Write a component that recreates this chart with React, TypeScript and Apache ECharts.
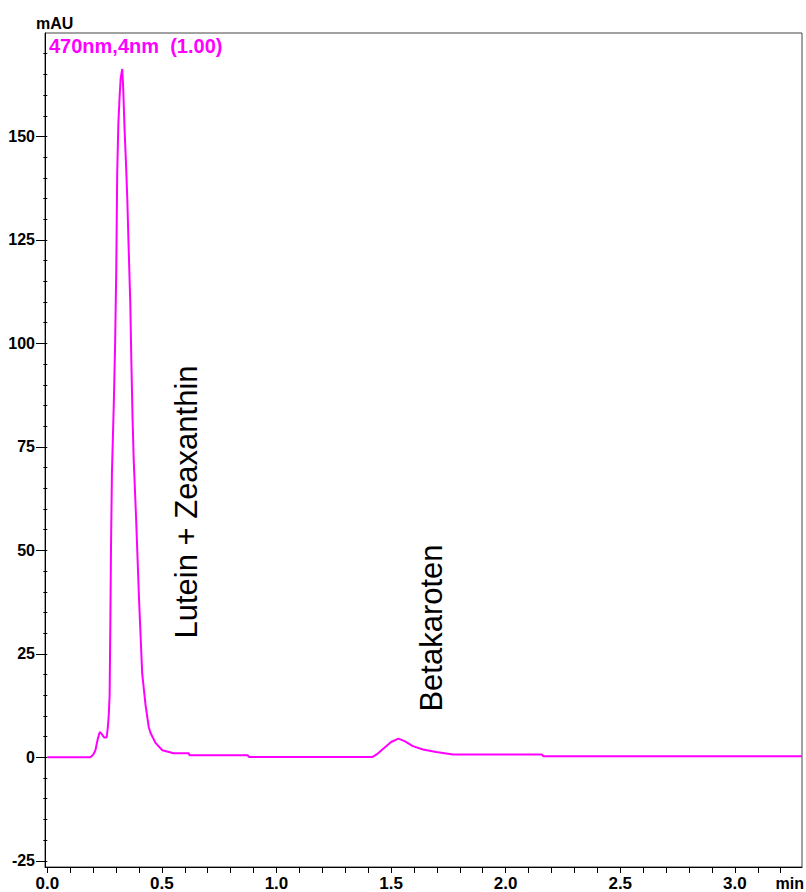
import React, { useEffect, useRef } from "react";
import * as echarts from "echarts";

// Chromatogram trace: retention time (min) and absorbance (mAU)
const timeMin = [
  0, 0.188, 0.2, 0.21, 0.22, 0.229, 0.238, 0.248, 0.259, 0.264, 0.268, 0.272,
  0.275, 0.278, 0.282, 0.29, 0.296, 0.301, 0.305, 0.31, 0.315, 0.32, 0.327,
  0.331, 0.337, 0.343, 0.349, 0.354, 0.362, 0.367, 0.372, 0.377, 0.388, 0.4,
  0.414, 0.429, 0.443, 0.451, 0.472, 0.502, 0.551, 0.617, 0.62, 0.874, 0.88,
  1.42, 1.442, 1.471, 1.5, 1.532, 1.559, 1.595, 1.639, 1.697, 1.77, 2.157,
  2.165, 3.293,
];
const absorbance = [
  0, 0, 0.6, 1.7, 4.4, 6.1, 5.6, 4.8, 4.8, 7.2, 10, 15, 32, 50.7, 68.6, 85,
  100, 118, 141, 153, 159, 164, 166.3, 162, 152, 144, 135, 125, 110, 95, 82,
  72, 57, 38.6, 20.3, 12.5, 7.2, 5.8, 3.5, 1.7, 1.0, 1.0, 0.5, 0.5, 0.1, 0.1,
  0.9, 2.3, 3.7, 4.5, 3.9, 2.7, 1.9, 1.3, 0.7, 0.7, 0.25, 0.25,
];

const xMajorTicks = [0, 0.5, 1.0, 1.5, 2.0, 2.5, 3.0];
const xMinorTicks = [
  0, 0.1, 0.2, 0.3, 0.4, 0.5, 0.6, 0.7, 0.8, 0.9, 1.0, 1.1, 1.2, 1.3, 1.4,
  1.5, 1.6, 1.7, 1.8, 1.9, 2.0, 2.1, 2.2, 2.3, 2.4, 2.5, 2.6, 2.7, 2.8, 2.9,
  3.0, 3.1, 3.2,
];
const yMajorTicks = [-25, 0, 25, 50, 75, 100, 125, 150];
const yMinorTicks = [
  -25, -20, -15, -10, -5, 0, 5, 10, 15, 20, 25, 30, 35, 40, 45, 50, 55, 60, 65,
  70, 75, 80, 85, 90, 95, 100, 105, 110, 115, 120, 125, 130, 135, 140, 145,
  150, 155, 160, 165, 170,
];

const seriesName = "470nm,4nm  (1.00)";
const peakLabels = ["Lutein + Zeaxanthin", "Betakaroten"];

const MAGENTA = "#FF00FF";
const TICK_FONT = "'Liberation Sans', Arial, sans-serif";

export default function App() {
  const ref = useRef<HTMLDivElement>(null);

  useEffect(() => {
    document.body.style.margin = "0";
    const chart = echarts.init(ref.current!, null, { renderer: "svg" });
    const data = timeMin.map((t, i) => [t, absorbance[i]]);
    const yRange = { min: -26.5, max: 175 };

    chart.setOption({
      animation: false,
      backgroundColor: "#ffffff",
      grid: {
        left: 45,
        right: 4,
        top: 33,
        bottom: 25,
        show: true,
        borderColor: "#444",
        borderWidth: 1,
        backgroundColor: "transparent",
      },
      xAxis: {
        type: "value",
        min: -0.01,
        max: 3.293,
        splitLine: { show: false },
        axisLine: { show: true, onZero: false, lineStyle: { color: "#000", width: 1 } },
        axisTick: {
          show: true,
          length: 6,
          customValues: xMinorTicks,
          lineStyle: { color: "#000" },
        },
        axisLabel: {
          customValues: xMajorTicks,
          margin: 8,
          color: "#000",
          fontFamily: TICK_FONT,
          fontWeight: "bold",
          fontSize: 17,
          formatter: (v: number) => v.toFixed(1),
        },
      },
      yAxis: [
        {
          type: "value",
          ...yRange,
          position: "left",
          splitLine: { show: false },
          axisLine: { show: true, onZero: false, lineStyle: { color: "#000", width: 1 } },
          axisTick: {
            show: true,
            length: 9,
            customValues: yMajorTicks,
            lineStyle: { color: "#000" },
          },
          axisLabel: {
            customValues: yMajorTicks,
            margin: 10,
            color: "#000",
            fontFamily: TICK_FONT,
            fontWeight: "bold",
            fontSize: 16,
          },
        },
        {
          type: "value",
          ...yRange,
          position: "left",
          offset: 0,
          splitLine: { show: false },
          axisLine: { show: false },
          axisLabel: { show: false },
          axisTick: {
            show: true,
            length: 4,
            customValues: yMinorTicks,
            lineStyle: { color: "#000" },
          },
        },
      ],
      series: [
        {
          name: seriesName,
          type: "line",
          data,
          xAxisIndex: 0,
          yAxisIndex: 0,
          showSymbol: false,
          symbol: "none",
          lineStyle: { color: MAGENTA, width: 2 },
        },
      ],
      graphic: [
        {
          type: "text",
          x: 36,
          y: 23,
          style: {
            text: "mAU",
            fill: "#000",
            font: "bold 16px 'Liberation Sans', Arial, sans-serif",
            textAlign: "left",
            textVerticalAlign: "middle",
          },
        },
        {
          type: "text",
          x: 49,
          y: 46,
          style: {
            text: seriesName,
            fill: MAGENTA,
            font: "bold 20px 'Liberation Sans', Arial, sans-serif",
            textAlign: "left",
            textVerticalAlign: "middle",
          },
        },
        {
          type: "text",
          x: 804,
          y: 883,
          style: {
            text: "min",
            fill: "#000",
            font: "bold 16px " + TICK_FONT,
            textAlign: "right",
            textVerticalAlign: "middle",
          },
        },
        {
          type: "text",
          x: 186,
          y: 502,
          rotation: Math.PI / 2,
          style: {
            text: peakLabels[0],
            fill: "#000",
            font: "31px 'Liberation Sans', Arial, sans-serif",
            textAlign: "center",
            textVerticalAlign: "middle",
          },
        },
        {
          type: "text",
          x: 431,
          y: 628,
          rotation: Math.PI / 2,
          style: {
            text: peakLabels[1],
            fill: "#000",
            font: "31px 'Liberation Sans', Arial, sans-serif",
            textAlign: "center",
            textVerticalAlign: "middle",
          },
        },
      ],
    });

    return () => chart.dispose();
  }, []);

  return <div ref={ref} style={{ width: 806, height: 892 }} />;
}
